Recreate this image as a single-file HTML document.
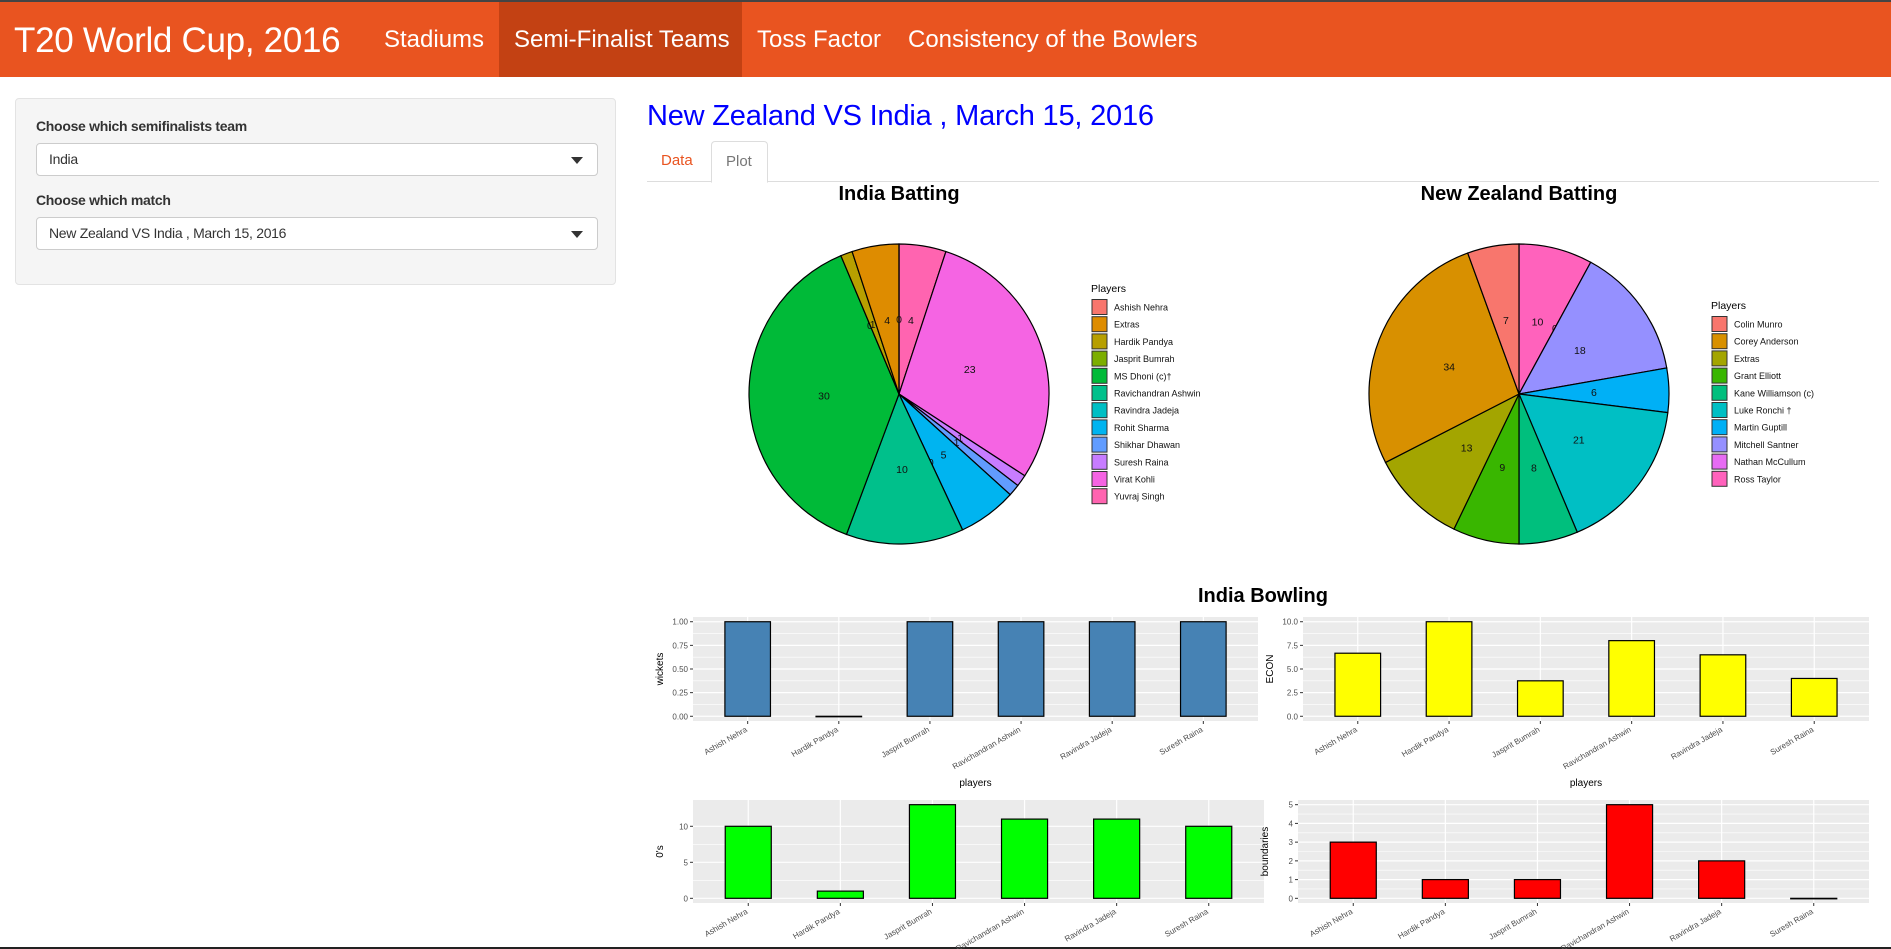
<!DOCTYPE html>
<html><head><meta charset="utf-8">
<style>
*{box-sizing:border-box}
body{margin:0;width:1891px;height:949px;overflow:hidden;background:#fff;font-family:"Liberation Sans",sans-serif;position:relative;border-bottom:2px solid #222}
.nav{position:absolute;left:0;top:0;width:1891px;height:77px;background:#e95420;border-top:2px solid #444}
.brand{position:absolute;left:14px;top:21px;color:#fff;font-size:35px;line-height:1;letter-spacing:-0.3px}
.ni{position:absolute;top:0;height:75px;color:#fff;font-size:24px;line-height:75px;padding:0 15px;white-space:nowrap}
.ni.active{background:#c34113}
.well{position:absolute;left:15px;top:98px;width:601px;height:187px;background:#f5f5f5;border:1px solid #e3e3e3;border-radius:4px}
.lab{position:absolute;left:20px;font-size:14px;font-weight:bold;color:#333;letter-spacing:-0.3px}
.sel{position:absolute;left:20px;width:562px;height:33px;background:#fff;border:1px solid #ccc;border-radius:4px;font-size:14px;color:#333;padding:0 12px;line-height:31px;letter-spacing:-0.3px}
.sel:after{content:"";position:absolute;right:14px;top:13px;border-left:6px solid transparent;border-right:6px solid transparent;border-top:7px solid #333}
h2{position:absolute;left:647px;top:102px;margin:0;font-weight:normal;font-size:29px;color:#0000ff;line-height:1;white-space:nowrap;letter-spacing:-0.2px}
.tabs{position:absolute;left:647px;top:141px;width:1232px;height:41px;border-bottom:1px solid #ddd}
.tab{position:absolute;top:0;height:41px;line-height:40px;font-size:15px;padding:0 14px}
svg{position:absolute;left:0;top:0}
</style></head><body>
<div class="nav">
<div class="brand">T20 World Cup, 2016</div>
<div class="ni" style="left:369px">Stadiums</div>
<div class="ni active" style="left:499px;width:243px">Semi-Finalist Teams</div>
<div class="ni" style="left:742px">Toss Factor</div>
<div class="ni" style="left:893px">Consistency of the Bowlers</div>
</div>
<div class="well">
<div class="lab" style="top:19px">Choose which semifinalists team</div>
<div class="sel" style="top:44px">India</div>
<div class="lab" style="top:93px">Choose which match</div>
<div class="sel" style="top:118px">New Zealand VS India , March 15, 2016</div>
</div>
<h2>New Zealand VS India , March 15, 2016</h2>
<div class="tabs">
<div class="tab" style="left:0;color:#e95420">Data</div>
<div class="tab" style="left:64px;width:57px;border:1px solid #ddd;border-bottom-color:#fff;border-radius:4px 4px 0 0;color:#777;background:#fff;height:42px">Plot</div>
</div>
<svg id="chart" width="1891" height="949"></svg>
<script>
const indiaPlayers=["Ashish Nehra","Extras","Hardik Pandya","Jasprit Bumrah","MS Dhoni (c)†","Ravichandran Ashwin","Ravindra Jadeja","Rohit Sharma","Shikhar Dhawan","Suresh Raina","Virat Kohli","Yuvraj Singh"];
const indiaRuns=[0,4,1,0,30,10,0,5,1,1,23,4];
const indiaColors=["#F8766D","#DE8C00","#B79F00","#7CAE00","#00BA38","#00C08B","#00BFC4","#00B4F0","#619CFF","#C77CFF","#F564E3","#FF64B0"];
const nzPlayers=["Colin Munro","Corey Anderson","Extras","Grant Elliott","Kane Williamson (c)","Luke Ronchi †","Martin Guptill","Mitchell Santner","Nathan McCullum","Ross Taylor"];
const nzRuns=[7,34,13,9,8,21,6,18,0,10];
const nzColors=["#F8766D","#D89000","#A3A500","#39B600","#00BF7D","#00BFC4","#00B0F6","#9590FF","#E76BF3","#FF62BC"];
const bowlers=["Ashish Nehra","Hardik Pandya","Jasprit Bumrah","Ravichandran Ashwin","Ravindra Jadeja","Suresh Raina"];
const wickets=[1,0,1,1,1,1];
const econ=[6.67,10,3.75,8,6.5,4];
const zeros=[10,1,13,11,11,10];
const boundaries=[3,1,1,5,2,0];
const wicketTicks=[0,0.25,0.5,0.75,1];
const wicketTickLabels=["0.00","0.25","0.50","0.75","1.00"];
const econTicks=[0,2.5,5,7.5,10];
const econTickLabels=["0.0","2.5","5.0","7.5","10.0"];
const zeroTicks=[0,5,10];
const zeroTickLabels=["0","5","10"];
const bTicks=[0,1,2,3,4,5];
const bTickLabels=["0","1","2","3","4","5"];

const svg=document.getElementById('chart');
const NS="http://www.w3.org/2000/svg";
function mk(tag,attrs,parent){const e=document.createElementNS(NS,tag);for(const k in attrs)e.setAttribute(k,attrs[k]);(parent||svg).appendChild(e);return e;}
function txt(s,attrs,parent){const e=mk('text',attrs,parent);e.textContent=s;return e;}

function pie(cx,cy,r,names,vals,cols,title,legX,legY,key){
  const t=txt(title,{x:cx,y:200,'text-anchor':'middle','font-size':20,'font-weight':'bold',fill:'#000'});
  
  
  const total=vals.reduce((a,b)=>a+b,0);
  let a=0;
  for(let k=names.length-1;k>=0;k--){
    const v=vals[k];const a0=a,a1=a+v/total*2*Math.PI;a=a1;
    const x0=cx+r*Math.sin(a0),y0=cy-r*Math.cos(a0),x1=cx+r*Math.sin(a1),y1=cy-r*Math.cos(a1);
    const large=(a1-a0)>Math.PI?1:0;
    const p=mk('path',{d:`M${cx},${cy}L${x0},${y0}A${r},${r} 0 ${large} 1 ${x1},${y1}Z`,fill:cols[k],stroke:'#000','stroke-width':1.2});
    
    
    const am=(a0+a1)/2;
    const l=txt(String(v),{x:cx+r/2*Math.sin(am),y:cy-r/2*Math.cos(am)+4,'text-anchor':'middle','font-size':10.5,fill:'#111'});
    
    
  }
  const lt=txt('Players',{x:legX,y:legY+4,'font-size':10.5,fill:'#000'});
  
  
  names.forEach((n,i)=>{
    const yc=legY+19+i*17.2;
    const g=mk('g',{});
    
    
    mk('rect',{x:legX+1,y:yc-7.5,width:15,height:15,fill:cols[i],stroke:'#333','stroke-width':1},g);
    txt(n,{x:legX+23,y:yc+3.5,'font-size':9,fill:'#111'},g);
  });
}
pie(899,394,150,indiaPlayers,indiaRuns,indiaColors,'India Batting',1091,288,'india-batting');
pie(1519,394,150,nzPlayers,nzRuns,nzColors,'New Zealand Batting',1711,305,'nz-batting');

const bt=txt('India Bowling',{x:1263,y:602,'text-anchor':'middle','font-size':20,'font-weight':'bold',fill:'#000'});



function bar(L,R,T,B,cats,vals,max,ticks,tickLabels,fill,ytitle,showX,key){
  const g=mk('g',{});
  
  
  const ys=v=>B-(v+0.05*max)/(1.1*max)*(B-T);
  const unit=(R-L)/(cats.length+0.2);
  const xs=i=>L+unit*(0.6+i);
  mk('rect',{x:L,y:T,width:R-L,height:B-T,fill:'#EBEBEB'},g);
  for(let i=0;i<ticks.length-1;i++){const m=(ticks[i]+ticks[i+1])/2;mk('line',{x1:L,x2:R,y1:ys(m),y2:ys(m),stroke:'#fff','stroke-width':0.6},g);}
  ticks.forEach((t,i)=>{
    mk('line',{x1:L,x2:R,y1:ys(t),y2:ys(t),stroke:'#fff','stroke-width':1.2},g);
    mk('line',{x1:L-3,x2:L,y1:ys(t),y2:ys(t),stroke:'#333','stroke-width':1},g);
    txt(tickLabels[i],{x:L-5,y:ys(t)+3,'text-anchor':'end','font-size':8,fill:'#4d4d4d'},g);
  });
  cats.forEach((c,i)=>{
    mk('line',{x1:xs(i),x2:xs(i),y1:T,y2:B,stroke:'#fff','stroke-width':1.2},g);
    mk('line',{x1:xs(i),x2:xs(i),y1:B,y2:B+3,stroke:'#333','stroke-width':1},g);
    const lb=txt(c,{x:xs(i),y:B+10,'text-anchor':'end','font-size':8,fill:'#4d4d4d',transform:`rotate(-30 ${xs(i)} ${B+10})`},g);
    
    
  });
  vals.forEach((v,i)=>{
    const w=unit*0.5;
    const r=mk('rect',{x:xs(i)-w/2,y:ys(v),width:w,height:Math.max(0.5,ys(0)-ys(v)),fill:fill,stroke:'#000','stroke-width':1.2},g);
    
    
  });
  const yt=txt(ytitle,{x:L-30,y:(T+B)/2,'text-anchor':'middle','font-size':10,fill:'#000',transform:`rotate(-90 ${L-30} ${(T+B)/2})`},g);
  
  
  if(showX){const xt=txt('players',{x:(L+R)/2,y:B+65,'text-anchor':'middle','font-size':10,fill:'#000'},g);
    
    }
}
bar(693,1258,617,721,bowlers,wickets,1,wicketTicks,wicketTickLabels,'#4682B4','wickets',true,'wickets');
bar(1303,1869,617,721,bowlers,econ,10,econTicks,econTickLabels,'#FFFF00','ECON',true,'econ');
bar(693,1264,800,903,bowlers,zeros,13,zeroTicks,zeroTickLabels,'#00FF00',"0's",false,'dot-balls');
bar(1298,1869,800,903,bowlers,boundaries,5,bTicks,bTickLabels,'#FF0000','boundaries',false,'boundaries');
</script>
</body></html>
